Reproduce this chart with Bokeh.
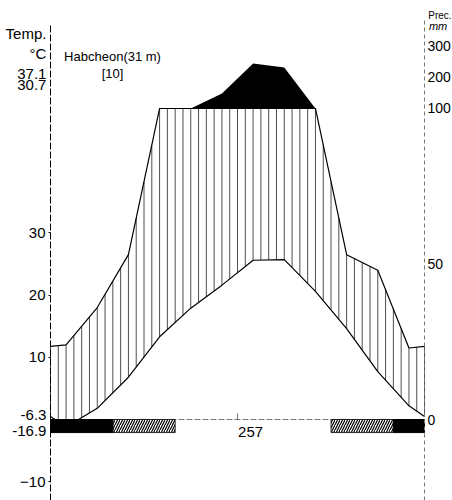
import numpy as np
from bokeh.plotting import figure
from bokeh.models import Range1d, LinearAxis, FixedTicker
from bokeh.core.properties import value
from bokeh.embed import file_html
from bokeh.resources import INLINE

# ---- data ----
months = ["Jan", "Feb", "Mar", "Apr", "May", "Jun", "Jul", "Aug", "Sep", "Oct", "Nov", "Dec"]
temp_c = [-1.2, 1.8, 6.8, 13.3, 17.9, 21.6, 25.6, 25.7, 20.6, 14.6, 7.7, 2.2]
precip_mm = [24, 36, 53, 100, 100, 148, 245, 232, 100, 53, 48, 23]
cold_months = ["Jan", "Feb", "Dec"]          # black bar (mean daily min < 0)
frost_months = ["Mar", "Apr", "Oct", "Nov"]  # hatched bar (absolute min < 0)
temp_ticks = [-10, 10, 20, 30]
precip_ticks_mm = [0, 50, 100, 200, 300]
station = "Habcheon(31 m)"
years = "[10]"
frost_free = "257"
abs_max = "37.1"
mean_max = "30.7"
mean_min = "-6.3"
abs_min = "-16.9"

FONT = "Liberation Sans"


def scale_p(mm):
    mm = np.asarray(mm, dtype=float)
    return np.where(mm <= 100, mm / 2.0, 50 + (mm - 100) / 20.0)


def runs(names):
    idx = sorted(months.index(m) for m in names)
    out = []
    for i in idx:
        if out and out[-1][1] == i:
            out[-1][1] = i + 1
        else:
            out.append([i, i + 1])
    return [r[0] for r in out], [r[1] for r in out]


t = np.array(temp_c, dtype=float)
pr = scale_p(precip_mm)
xm = np.arange(12) + 0.5
xe = np.concatenate([[0.0], xm, [12.0]])
te = np.concatenate([[(t[-1] + t[0]) / 2], t, [(t[-1] + t[0]) / 2]])
pe = np.concatenate([[(pr[-1] + pr[0]) / 2], pr, [(pr[-1] + pr[0]) / 2]])

p = figure(width=452, height=500, x_range=Range1d(-1.604, 12.897), y_range=Range1d(-13.02, 67.36),
           x_axis_type=None, y_axis_type=None, output_backend="svg", toolbar_location=None,
           min_border_left=0, min_border_right=0, min_border_top=0, min_border_bottom=0)
p.outline_line_color = None
p.background_fill_color = "white"
p.border_fill_color = "white"

# hatch (humid period): vertical lines between temperature and precipitation
xs = np.arange(0, 12.001, 0.25)
tb = np.maximum(np.interp(xs, xe, te), 0)
ptop = np.minimum(np.interp(xs, xe, pe), 50)
p.segment(x0=xs, y0=tb, x1=xs, y1=ptop, line_color="#3a3a3a", line_width=0.9)

# > 100 mm black area
p.varea(x=xe, y1=np.full_like(pe, 50.0), y2=np.maximum(pe, 50), fill_color="black")

# curves
p.line(xe, np.minimum(pe, 50), line_color="black", line_width=1.2)
p.line(xe, te, line_color="black", line_width=1.2)

# baseline
p.line([0, 12], [0, 0], line_color="#555555", line_width=0.8, line_dash="6 2")
p.segment(x0=[6], y0=[0], x1=[6], y1=[1], line_color="#555555", line_width=0.8)

# bars
fl, fr = runs(frost_months)
cl, cr = runs(cold_months)
p.quad(left=fl, right=fr, top=0, bottom=-2.1, fill_color="white", line_color="black",
       line_width=0.8, hatch_pattern="/", hatch_color="black", hatch_scale=5, hatch_weight=1.2)
p.quad(left=cl, right=cr, top=0, bottom=-2.1, fill_color="black", line_color="black")

# axes (fixed inside the frame at the year's start and end)
la = LinearAxis(ticker=FixedTicker(ticks=temp_ticks), bounds=(-13.02, 63.3), fixed_location=0,
                axis_line_dash="7 2", axis_line_width=1, major_tick_out=2, major_tick_in=0,
                minor_tick_out=0, minor_tick_in=0, major_label_standoff=3,
                major_label_text_font=FONT, major_label_text_font_size="15px",
                major_label_text_color="black")
p.add_layout(la, "left")
ptk = [float(v) for v in scale_p(precip_ticks_mm)]
ra = LinearAxis(ticker=FixedTicker(ticks=ptk), bounds=(-13.02, 64.1), fixed_location=12,
                major_label_overrides={k: str(v) for k, v in zip(ptk, precip_ticks_mm)},
                axis_line_dash="4 3", axis_line_color="#777777", major_tick_out=0, major_tick_in=0,
                minor_tick_out=0, minor_tick_in=0, major_label_standoff=3,
                major_label_text_font=FONT, major_label_text_font_size="14px",
                major_label_text_color="black")
p.add_layout(ra, "right")

# texts
p.text(x=[1.99], y=[58.4], text=[station], text_font=value(FONT), text_font_size="13px",
       text_align="center", text_baseline="middle")
p.text(x=[1.99], y=[55.6], text=[years], text_font=value(FONT), text_font_size="13px",
       text_align="center", text_baseline="middle")
p.text(x=[6.42], y=[-1.93], text=[frost_free], text_font=value(FONT), text_font_size="15px",
       text_align="center", text_baseline="middle")

left_txt = ["Temp.", "°C", abs_max, mean_max, mean_min, abs_min]
left_y = [62.0, 58.8, 55.6, 53.8, 0.8, -1.8]
p.text(x=[-0.13] * len(left_txt), y=left_y, text=left_txt, text_font=value(FONT),
       text_font_size="15px", text_align="right", text_baseline="middle")
p.text(x=[12.12], y=[64.9], text=["Prec."], text_font=value(FONT), text_font_size="10px",
       text_align="left", text_baseline="middle")
p.text(x=[12.14], y=[63.3], text=["mm"], text_font=value(FONT), text_font_size="11px",
       text_font_style="italic", text_align="left", text_baseline="middle")

open("out.html", "w").write(file_html(p, INLINE))
